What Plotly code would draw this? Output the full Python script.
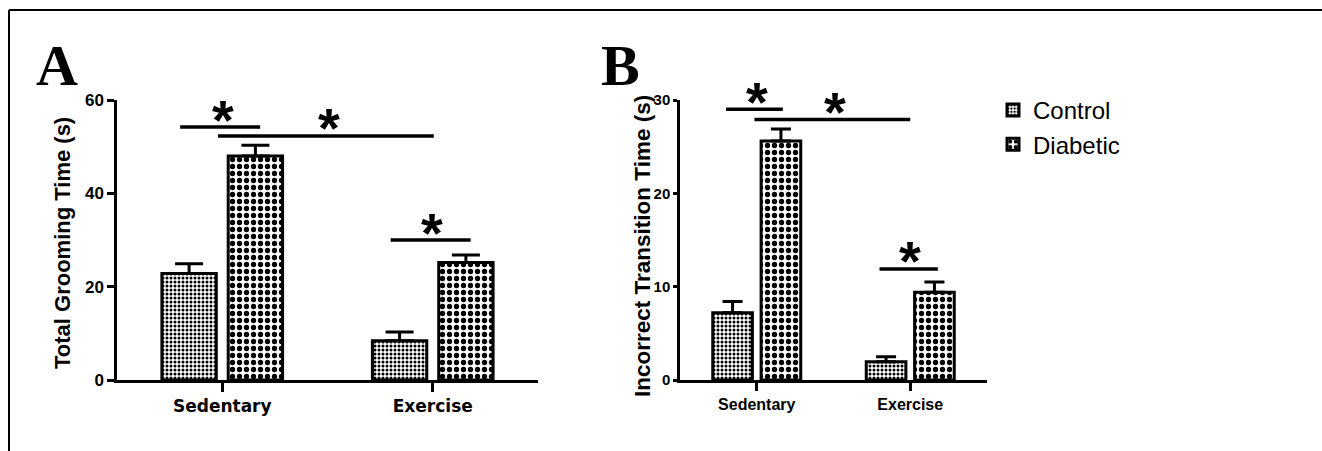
import plotly.graph_objects as go

# ---------------- data ----------------
categories = ["Sedentary", "Exercise"]
groups = ["Control", "Diabetic"]

# Panel A: Total Grooming Time (s)
a_control = [22.8, 8.4]
a_control_sem = [2.1, 1.9]
a_diabetic = [48.0, 25.2]
a_diabetic_sem = [2.3, 1.6]

# Panel B: Incorrect Transition Time (s)
b_control = [7.2, 1.95]
b_control_sem = [1.2, 0.55]
b_diabetic = [25.6, 9.4]
b_diabetic_sem = [1.3, 1.1]

a_ticks = [0, 20, 40, 60]
b_ticks = [0, 10, 20, 30]

# significance brackets: (x0, x1, y) in category-index / data units; star x positions
a_sig_lines = [(-0.20, 0.18, 54.2), (-0.02, 1.005, 52.3), (0.80, 1.18, 30.0)]
a_sig_star_x = [0.005, 0.505, 0.995]
b_sig_lines = [(-0.20, 0.17, 29.0), (-0.015, 1.0, 27.9), (0.80, 1.18, 11.9)]
b_sig_star_x = [0.0, 0.51, 1.0]

W, H = 1322, 451
ARIAL = "Liberation Sans, Arial, sans-serif"

patterns = {
    "Control": dict(shape=".", size=4, solidity=0.45, fgcolor="black", bgcolor="white", fillmode="replace"),
    "Diabetic": dict(shape=".", size=7, solidity=0.45, fgcolor="black", bgcolor="white", fillmode="replace"),
}

fig = go.Figure()


def add_bars(xa, ya, vals, sems, name, showlegend, capw):
    fig.add_trace(go.Bar(
        x=categories, y=vals, name=name, xaxis=xa, yaxis=ya,
        showlegend=showlegend, legendgroup=name,
        marker=dict(color="white", pattern=patterns[name],
                    line=dict(color="black", width=3)),
        error_y=dict(type="data", array=sems, arrayminus=[0] * len(sems),
                     symmetric=False, color="black", thickness=3, width=capw),
    ))


add_bars("x", "y", a_control, a_control_sem, "Control", False, 14)
add_bars("x", "y", a_diabetic, a_diabetic_sem, "Diabetic", False, 14)
add_bars("x2", "y2", b_control, b_control_sem, "Control", True, 10)
add_bars("x2", "y2", b_diabetic, b_diabetic_sem, "Diabetic", True, 10)

ybot = 1 - 380 / H
ytop = 1 - 100 / H

axis_common = dict(showline=True, linecolor="black", linewidth=2.5, ticks="outside",
                   tickcolor="black", tickwidth=2.5, showgrid=False, zeroline=False,
                   fixedrange=True, automargin=False)

fig.update_layout(
    width=W, height=H, autosize=False,
    margin=dict(l=0, r=0, t=0, b=0, pad=0, autoexpand=False),
    paper_bgcolor="white", plot_bgcolor="white",
    barmode="group", bargap=0.37, bargroupgap=0.18,
    xaxis=dict(domain=[117 / W, 538 / W], range=[-0.5, 1.5], anchor="y",
               ticklen=9, tickfont=dict(family="DejaVu Sans", size=17, color="black", weight="bold"),
               **axis_common),
    yaxis=dict(domain=[ybot, ytop], range=[0, 60], anchor="x", tickvals=a_ticks,
               ticklen=7, tickfont=dict(family=ARIAL, size=17, color="black", weight="bold"),
               **axis_common),
    xaxis2=dict(domain=[680 / W, 987 / W], range=[-0.5, 1.5], anchor="y2",
                ticklen=8, tickfont=dict(family=ARIAL, size=16, color="black", weight="bold"),
                **axis_common),
    yaxis2=dict(domain=[ybot, ytop], range=[0, 30], anchor="x2", tickvals=b_ticks,
                ticklen=4, tickfont=dict(family=ARIAL, size=15, color="black", weight="bold"),
                **axis_common),
    legend=dict(x=993 / W, y=1 - 88 / H, xanchor="left", yanchor="top",
                font=dict(family=ARIAL, size=24, color="black"),
                bgcolor="rgba(0,0,0,0)", traceorder="normal", tracegroupgap=8),
    showlegend=True,
)

shapes = []
annotations = []
star_font = dict(family=ARIAL, size=56, color="black", weight="bold")
for (x0, x1, yv), sx in zip(a_sig_lines, a_sig_star_x):
    shapes.append(dict(type="line", xref="x", yref="y", x0=x0, x1=x1, y0=yv, y1=yv,
                       line=dict(color="black", width=3.5)))
    annotations.append(dict(text="*", xref="x", yref="y", x=sx, y=yv, showarrow=False,
                            xanchor="center", yanchor="middle", yshift=8, font=star_font))
for (x0, x1, yv), sx in zip(b_sig_lines, b_sig_star_x):
    shapes.append(dict(type="line", xref="x2", yref="y2", x0=x0, x1=x1, y0=yv, y1=yv,
                       line=dict(color="black", width=3.5)))
    annotations.append(dict(text="*", xref="x2", yref="y2", x=sx, y=yv, showarrow=False,
                            xanchor="center", yanchor="middle", yshift=8, font=star_font))

serif = "Liberation Serif, Times New Roman, serif"
# panel letters
annotations.append(dict(text="<b>A</b>", xref="paper", yref="paper", x=57 / W, y=1 - 65 / H,
                        xanchor="center", yanchor="middle", showarrow=False,
                        font=dict(family=serif, size=58, color="black")))
annotations.append(dict(text="<b>B</b>", xref="paper", yref="paper", x=620 / W, y=1 - 65 / H,
                        xanchor="center", yanchor="middle", showarrow=False,
                        font=dict(family=serif, size=58, color="black")))
# axis titles
annotations.append(dict(text="<b>Total Grooming Time (s)</b>", xref="paper", yref="paper",
                        x=62 / W, y=1 - 243 / H, textangle=-90, showarrow=False,
                        xanchor="center", yanchor="middle",
                        font=dict(family=ARIAL, size=22, color="black")))
annotations.append(dict(text="<b>Incorrect Transition Time (s)</b>", xref="paper", yref="paper",
                        x=643 / W, y=1 - 246 / H, textangle=-90, showarrow=False,
                        xanchor="center", yanchor="middle",
                        font=dict(family=ARIAL, size=22.5, color="black")))

# outer frame (top and left edges)
shapes.append(dict(type="line", xref="paper", yref="paper", x0=9 / W, x1=1.0, y0=1 - 10 / H, y1=1 - 10 / H,
                   line=dict(color="black", width=2)))
shapes.append(dict(type="line", xref="paper", yref="paper", x0=9 / W, x1=9 / W, y0=0, y1=1 - 10 / H,
                   line=dict(color="black", width=2)))

fig.update_layout(shapes=shapes, annotations=annotations)

fig.write_html("out.html",
               config={"displayModeBar": False},
               post_script="document.body.style.margin='0';document.body.style.overflow='hidden';")
